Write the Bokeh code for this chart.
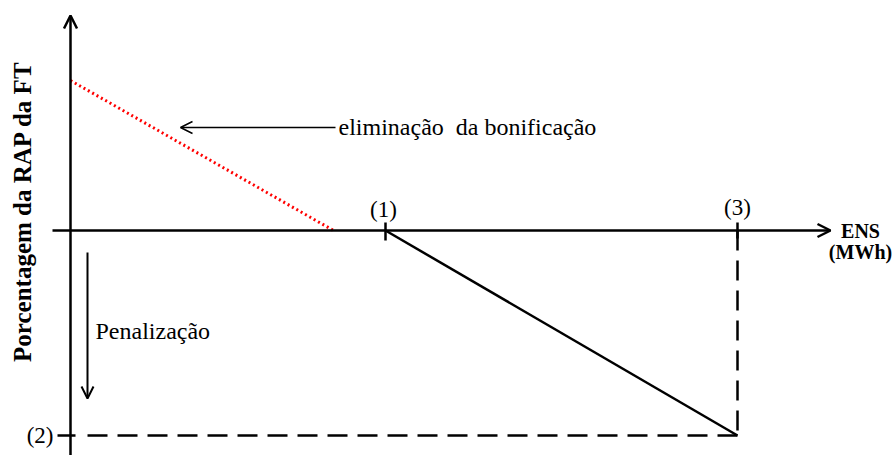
import math
from bokeh.plotting import figure
from bokeh.models import Range1d, Arrow, OpenHead
from bokeh.core.properties import value
from bokeh.embed import file_html
from bokeh.resources import INLINE

# ---- schematic data (ENS on x, % of RAP on y) ----
x_axis = [-0.18, 7.6]          # horizontal axis extent
y_axis = [-2.4, 2.15]          # vertical axis extent
p1_x = 3.15                    # point (1)
p3_x = 6.67                    # point (3)
p2_y = -2.05                   # point (2)
bonus_x = [0.0, 2.63]          # bonus elimination line
bonus_y = [1.5, 0.0]
penalty_x = [p1_x, p3_x]       # penalty line
penalty_y = [0.0, p2_y]
point_labels = ["(1)", "(3)"]
point_label_x = [3.13, 6.67]
point_label_y = [0.21, 0.23]

FONT = value("Liberation Serif")

p = figure(width=895, height=455, output_backend="svg", toolbar_location=None,
           x_range=Range1d(-0.70, 8.25), y_range=Range1d(-2.25, 2.30),
           x_axis_location=None, y_axis_location=None, min_border=0,
           outline_line_color=None)
p.grid.visible = False

# axes with arrows
p.add_layout(Arrow(end=OpenHead(size=13, line_width=2.5, line_color="black"),
                   x_start=x_axis[0], y_start=0, x_end=x_axis[1], y_end=0,
                   line_width=2.5, line_color="black"))
p.add_layout(Arrow(end=OpenHead(size=13, line_width=2.5, line_color="black"),
                   x_start=0, y_start=y_axis[0], x_end=0, y_end=y_axis[1],
                   line_width=2.5, line_color="black"))

# bonus elimination (red dotted)
p.line(bonus_x, bonus_y, line_color="red", line_width=3, line_dash="2 3")

# penalty line
p.line(penalty_x, penalty_y, line_color="black", line_width=2.5)

# dashed guides
p.line([p3_x, p3_x], [0, p2_y], line_color="black", line_width=2.5, line_dash="20 10")
p.line([0.17, p3_x], [p2_y, p2_y], line_color="black", line_width=2.5, line_dash="20 10")

# ticks
p.segment(x0=[p1_x, p3_x], y0=[-0.1, -0.08], x1=[p1_x, p3_x], y1=[0.08, 0.08],
          line_color="black", line_width=2.5)
p.segment(x0=[-0.13], y0=[p2_y], x1=[0.05], y1=[p2_y], line_color="black", line_width=2.5)

# annotation arrows
p.add_layout(Arrow(end=OpenHead(size=12, line_width=1.5, line_color="black"),
                   x_start=2.65, y_start=1.03, x_end=1.10, y_end=1.03,
                   line_width=1.5, line_color="black"))
p.add_layout(Arrow(end=OpenHead(size=12, line_width=2, line_color="black"),
                   x_start=0.17, y_start=-0.22, x_end=0.17, y_end=-1.68,
                   line_width=2, line_color="black"))

# texts
p.text(x=point_label_x, y=point_label_y, text=point_labels, text_font=FONT,
       text_font_size="23px", text_align="center", text_baseline="middle", text_color="black")
p.text(x=[-0.17], y=[p2_y], text=["(2)"], text_font=FONT, text_font_size="23px",
       text_align="right", text_baseline="middle", text_color="black")
p.text(x=[2.68], y=[1.04], text=["eliminação\u00a0 da bonificação"], text_font=FONT,
       text_font_size="24px", text_align="left", text_baseline="middle", text_color="black")
p.text(x=[0.25], y=[-1.0], text=["Penalização"], text_font=FONT,
       text_font_size="24px", text_align="left", text_baseline="middle", text_color="black")
p.text(x=[7.9, 7.9], y=[0.0, -0.21], text=["ENS", "(MWh)"], text_font=FONT,
       text_font_size="20px", text_font_style="bold", text_align="center",
       text_baseline="middle", text_color="black")
p.text(x=[-0.48], y=[0.19], text=["Porcentagem da RAP da FT"], text_font=FONT,
       text_font_size="25px", text_font_style="bold", text_align="center",
       text_baseline="middle", angle=math.pi / 2, text_color="black")

open("out.html", "w").write(file_html(p, INLINE))
